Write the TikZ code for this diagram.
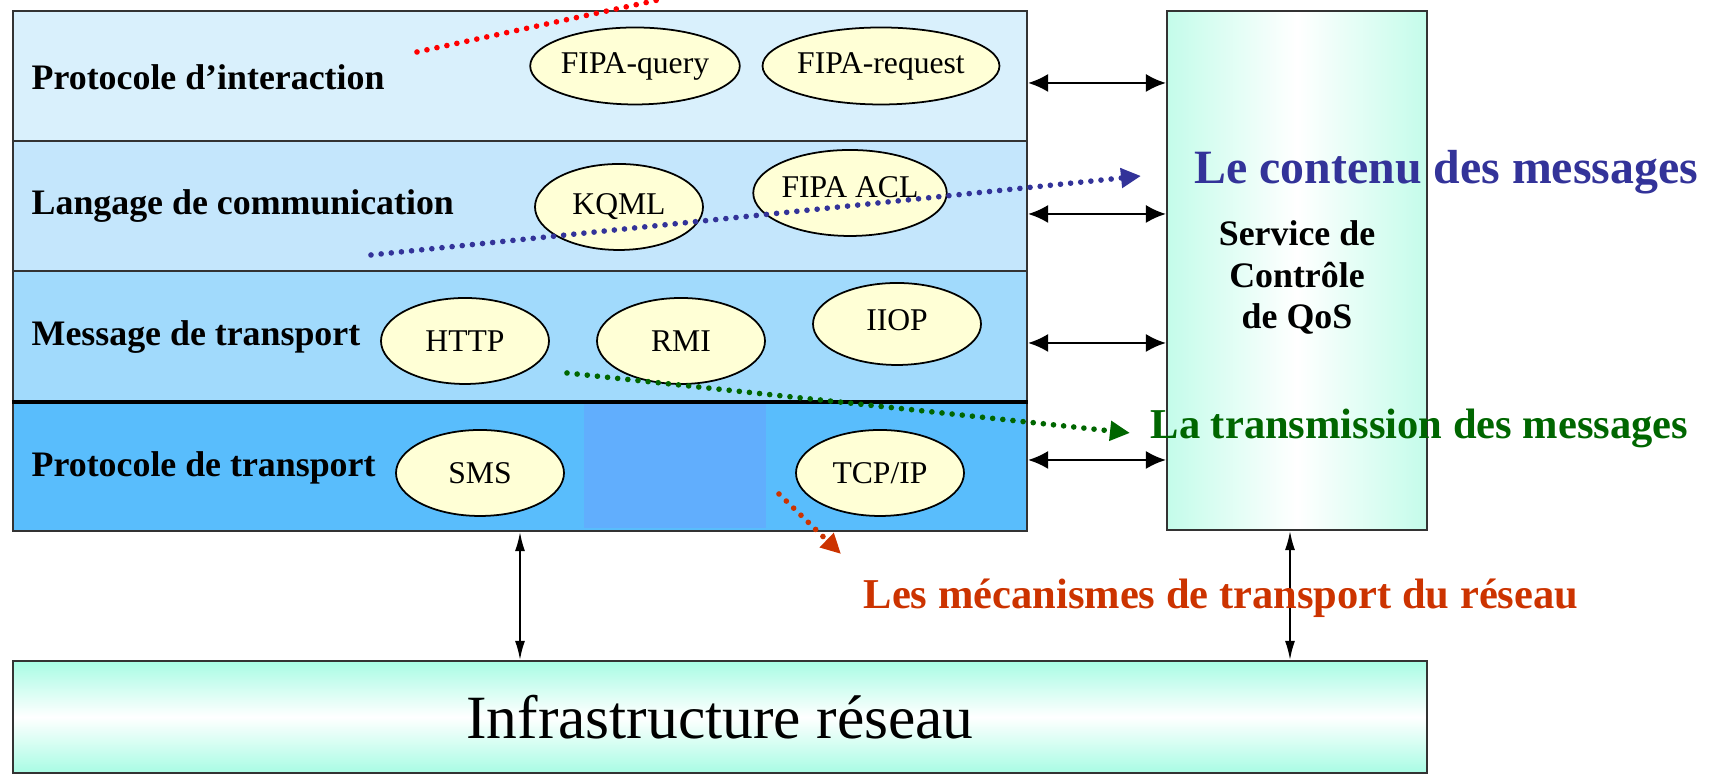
\documentclass[tikz,border=0pt]{standalone}
\usepackage{fontspec}
\setmainfont{Liberation Serif}
\usetikzlibrary{shapes.geometric,arrows.meta}
\definecolor{layA}{RGB}{217,240,252}
\definecolor{layB}{RGB}{196,230,252}
\definecolor{layC}{RGB}{161,218,252}
\definecolor{layD}{RGB}{89,189,252}
\definecolor{layMid}{RGB}{97,174,253}
\definecolor{cream}{RGB}{255,255,214}
\definecolor{qosc}{RGB}{196,252,234}
\definecolor{infc}{RGB}{168,252,228}
\definecolor{contenu}{RGB}{51,51,153}
\definecolor{transm}{RGB}{0,102,0}
\definecolor{meca}{RGB}{204,51,0}
\tikzstyle{layer}=[rectangle,draw=black!80,line width=0.6pt,minimum width=10.14cm,minimum height=1.30cm,inner sep=0]
\tikzstyle{layname}=[right,inner sep=0,font=\fontsize{10.2}{12}\selectfont\bfseries]
\tikzstyle{proto}=[ellipse,draw,line width=0.5pt,fill=cream,minimum width=1.68cm,minimum height=0.86cm,inner sep=0,font=\fontsize{9}{10}\selectfont]
\tikzstyle{biarrow}=[{Latex[length=2mm,width=1.8mm]}-{Latex[length=2mm,width=1.8mm]},line width=0.6pt]
\tikzstyle{varrow}=[{Latex[length=1.9mm,width=1mm]}-{Latex[length=1.9mm,width=1mm]},line width=0.5pt]
\tikzstyle{pointer}=[line width=1.6pt,dash pattern=on 0pt off 2.9pt,line cap=round]
\tikzstyle{note}=[right,inner sep=0,font=\fontsize{12.1}{14}\selectfont\bfseries]

\begin{document}
\begin{tikzpicture}
\useasboundingbox (0,0) rectangle (17.2,7.75);
% pile de couches
\node[layer,fill=layA] (l1) at (5.20,6.99) {};
\node[layer,fill=layB] (l2) at (5.20,5.69) {};
\node[layer,fill=layC] (l3) at (5.20,4.39) {};
\node[layer,fill=layD] (l4) at (5.20,3.09) {};
\fill[layMid] (5.84,2.47) rectangle (7.66,3.72);
\draw[line width=1.3pt] (l3.south west) -- (l3.south east);
\node[layname] (n1) at (0.31,6.98) {Protocole d’interaction};
\node[layname] (n2) at (0.31,5.69) {Langage de communication};
\node[layname] (n3) at (0.31,4.38) {Message de transport};
\node[layname] (n4) at (0.31,3.07) {Protocole de transport};
% protocoles
\node[proto,minimum width=1.99cm,minimum height=0.77cm] (fq) at (6.35,7.09) {FIPA-query};
\node[proto,minimum width=2.00cm,minimum height=0.77cm] (fr) at (8.81,7.09) {FIPA-request};
\node[proto] (kqml) at (6.19,5.68) {KQML};
\node[proto] (acl) at (8.50,5.82) {\raisebox{0.8ex}{FIPA ACL}};
\node[proto] (http) at (4.65,4.34) {HTTP};
\node[proto] (rmi) at (6.81,4.34) {RMI};
\node[proto,minimum height=0.82cm] (iiop) at (8.97,4.51) {\raisebox{0.5ex}{IIOP}};
\node[proto] (sms) at (4.80,3.02) {SMS};
\node[proto] (tcp) at (8.80,3.02) {TCP/IP};
% QoS et infrastructure
\node[rectangle,draw=black!80,line width=0.6pt,left color=qosc,right color=qosc,middle color=white,
  minimum width=2.60cm,minimum height=5.19cm] (qos) at (12.97,5.045) {};
\node[align=center,font=\fontsize{10.2}{11.7}\selectfont\bfseries] (qost) at ([yshift=-0.07cm]qos.center) {Service de\\Contrôle\\de QoS};
\node[rectangle,draw=black!80,line width=0.6pt,top color=infc,bottom color=infc,middle color=white,
  minimum width=14.14cm,minimum height=1.12cm,font=\fontsize{17.5}{20}\selectfont] (infra) at (7.20,0.58) {Infrastructure réseau};
\draw[biarrow] ([yshift=-0.07cm]l1.east) -- ([yshift=-0.07cm]l1.east -| qos.west);
\draw[biarrow] ([yshift=-0.08cm]l2.east) -- ([yshift=-0.08cm]l2.east -| qos.west);
\draw[biarrow] ([yshift=-0.07cm]l3.east) -- ([yshift=-0.07cm]l3.east -| qos.west);
\draw[biarrow] ([yshift=0.06cm]l4.east) -- ([yshift=0.06cm]l4.east -| qos.west);
\coordinate (qosfoot) at ([xshift=-0.07cm]qos.south);
\draw[varrow] (l4.south) -- (l4.south |- infra.north);
\draw[varrow] (qosfoot) -- (qosfoot |- infra.north);
% annotations
\node[note,text=contenu,font=\fontsize{13.6}{16}\selectfont\bfseries] (tcont) at (11.94,6.03) {Le contenu des messages};
\node[note,text=transm] (ttrans) at (11.50,3.47) {La transmission des messages};
\node[note,text=meca] (tmeca) at (8.63,1.77) {Les mécanismes de transport du réseau};
\coordinate (redA) at (4.17,7.23);
\coordinate (redB) at (6.58,7.75);
\coordinate (blueA) at (3.71,5.20);
\coordinate (blueB) at (11.41,5.99);
\coordinate (greenA) at (5.67,4.02);
\coordinate (greenB) at (11.30,3.42);
\coordinate (orA) at (7.79,2.81);
\coordinate (orB) at (8.41,2.21);
\draw[pointer,red] (redA) -- (redB);
\draw[pointer,contenu,-{Triangle[length=2mm,width=1.9mm]}] (blueA) -- (blueB);
\draw[pointer,transm,-{Triangle[length=2mm,width=1.9mm]}] (greenA) -- (greenB);
\draw[pointer,meca,-{Triangle[length=2mm,width=1.9mm]}] (orA) -- (orB);
\end{tikzpicture}
\end{document}
